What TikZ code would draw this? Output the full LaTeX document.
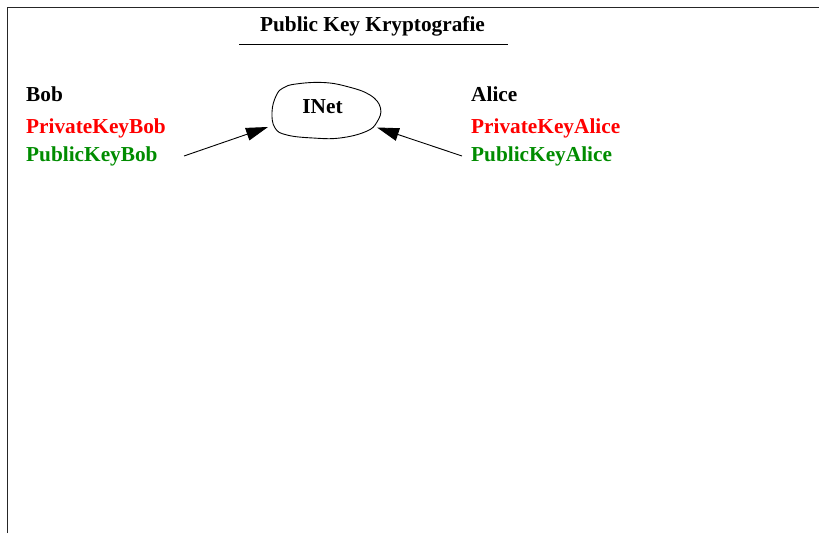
\documentclass[tikz,border=0pt]{standalone}
\usepackage{fontspec}
\setmainfont{Liberation Serif}
\usetikzlibrary{arrows.meta}

\definecolor{keyred}{RGB}{255,0,0}
\definecolor{keygreen}{RGB}{0,140,0}

\begin{document}
\begin{tikzpicture}[x=1pt, y=-1pt,
  txt/.style={font=\fontsize{21.3}{24}\selectfont\bfseries, inner sep=0pt, anchor=base west},
  priv/.style={txt, text=keyred},
  pub/.style={txt, text=keygreen},
  arr/.style={line width=0.9pt, -{Triangle[length=22pt, width=13pt]}}]

\useasboundingbox (0,0) rectangle (819,533);

% Rahmen (oben und links)
\draw[line width=1.4pt, black!85] (7.5,533) -- (7.5,7.5) -- (819,7.5);

% Ueberschrift
\node[txt, anchor=base] (title) at (372.5,31) {Public Key Kryptografie};
\draw[line width=0.9pt] (239,44) -- (508,44);

% Bob
\node[txt]  (bob)    at (26,101) {Bob};
\node[priv] (privB)  at (26,133) {PrivateKeyBob};
\node[pub]  (pubB)   at (26,161) {PublicKeyBob};

% Alice
\node[txt]  (alice)  at (471,101) {Alice};
\node[priv] (privA)  at (471,133) {PrivateKeyAlice};
\node[pub]  (pubA)   at (471,161) {PublicKeyAlice};

% Netz
\node[txt, anchor=base] (inet) at (322.5,113) {INet};
\draw[line width=0.9pt] plot[smooth cycle, tension=0.7] coordinates
  {(272,112) (276,96) (283,88) (296,84) (323,82.5) (347,86.5) (370,95)
   (380.5,108) (377,122) (366,131.5) (340,138) (313,138) (287,135) (275,128)};

\coordinate (inetW) at (268,127);
\coordinate (inetE) at (377,127.5);
\coordinate (fromB) at (184,156);
\coordinate (fromA) at (462,156);

% Schluessel ins Netz
\draw[arr] (fromB) -- (inetW);
\draw[arr] (fromA) -- (inetE);

\end{tikzpicture}
\end{document}
